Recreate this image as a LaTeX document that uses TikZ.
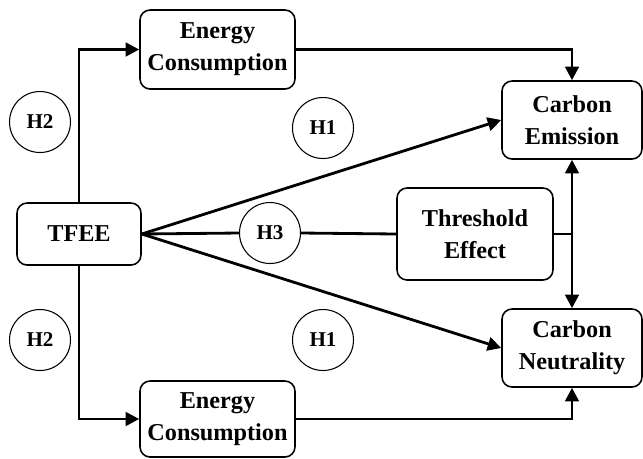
\documentclass[tikz,border=0pt]{standalone}
\usepackage{fontspec}
\setmainfont{Liberation Serif}
\usepackage{tikz}
\usetikzlibrary{calc}
\usetikzlibrary{arrows.meta}
\tikzset{
  box/.style={draw, line width=0.9pt, rounded corners=0.2cm, align=center,
    font=\fontsize{13.8}{18.2}\selectfont\bfseries, inner sep=0pt},
  hyp/.style={draw, circle, line width=0.6pt, minimum size=1.22cm, inner sep=0pt,
    font=\fontsize{12}{14}\selectfont\bfseries},
  conn/.style={line width=1.6pt, -{Triangle[length=0.27cm, width=0.27cm]}},
  plain/.style={line width=1.6pt}
}
\newcommand{\boxnode}[6]{\node[box, minimum width=#4 cm, minimum height=#5 cm] (#1) at ( #2 , #3 ) {#6};}
\newcommand{\hypnode}[4]{\node[hyp] (#1) at ( #2 , #3 ) {#4};}
\begin{document}
\begin{tikzpicture}[x=0.02cm, y=-0.02cm]
        \useasboundingbox (0,0) rectangle (643,458);

        % boxes
        \boxnode{tfee}{79}{234}{2.48}{1.24}{TFEE}
        \boxnode{ecup}{217.5}{49.5}{3.1}{1.58}{Energy\\Consumption}
        \boxnode{ecdn}{217.5}{419}{3.1}{1.52}{Energy\\Consumption}
        \boxnode{cemi}{572}{120}{2.8}{1.56}{Carbon\\Emission}
        \boxnode{cneu}{572}{348}{2.8}{1.56}{Carbon\\Neutrality}
        \boxnode{thre}{475}{234}{3.12}{1.84}{Threshold\\Effect}

        % hypotheses
        \hypnode{htwoa}{40}{122}{H2}
        \hypnode{htwob}{40}{340}{H2}
        \hypnode{honea}{323}{128}{H1}
        \hypnode{honeb}{323}{340}{H1}
        \hypnode{hthree}{270}{233}{H3}

        % paths via energy consumption
        \draw[conn] (tfee.north) |- (ecup.west);
        \draw[conn] (tfee.south) |- (ecdn.west);
        \draw[conn] (ecup.east) -| (cemi.north);
        \draw[conn] (ecdn.east) -| (cneu.south);

        % direct paths
        \draw[conn] (tfee.east) -- (cemi.west);
        \draw[conn] (tfee.east) -- (cneu.west);

        % threshold
        \coordinate (jn) at (thre.east -| cemi.south);
        \draw[plain] (tfee.east) -- (hthree.west);
        \draw[plain] (hthree.east) -- (thre.west);
        \draw[plain] (thre.east) -- (jn);
        \draw[conn] (jn) -- (cemi.south);
        \draw[conn] (jn) -- (cneu.north);

    \end{tikzpicture}
\end{document}
